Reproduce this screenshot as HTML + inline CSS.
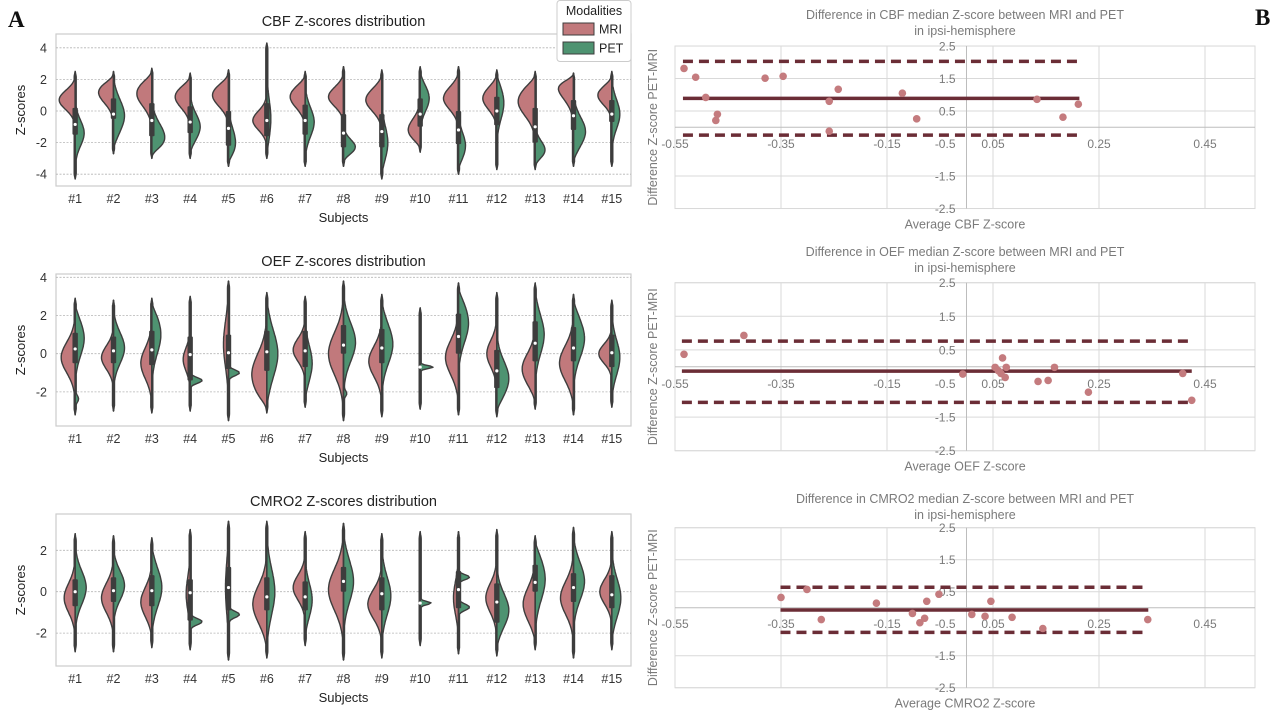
<!DOCTYPE html>
<html><head><meta charset="utf-8"><style>
html,body{margin:0;padding:0;background:#fff;width:1280px;height:720px;overflow:hidden}
svg{display:block;font-family:"Liberation Sans",sans-serif}
</style></head><body>
<svg id="fig" width="1280" height="720" viewBox="0 0 1280 720">
<text x="8" y="27" font-family="Liberation Serif,serif" font-weight="bold" font-size="23" fill="#111">A</text>
<text x="1255" y="25" font-family="Liberation Serif,serif" font-weight="bold" font-size="23" fill="#111">B</text>
</svg>
<script>
// ---------- Violin data (A panels) ----------
const subjects = ["#1","#2","#3","#4","#5","#6","#7","#8","#9","#10","#11","#12","#13","#14","#15"];
// each half: [peak, relWidth, sd]
const cbfMri = [[0.7,0.8,0.6],[1.2,0.75,0.7],[1.1,0.75,0.8],[0.9,0.75,0.7],[1.0,0.8,0.7],[-0.6,0.7,0.6],[0.9,0.75,0.7],[0.9,0.75,0.6],[0.7,0.8,0.7],[-1.2,0.6,0.7],[0.8,0.75,0.7],[0.8,0.7,0.7],[0.6,0.85,0.9],[1.7,0.85,0.9],[1.0,0.7,0.6]];
const cbfPet = [[-1.4,0.45,0.8],[-0.3,0.55,1.0],[-1.7,0.65,0.9],[-1.0,0.5,0.8],[-2.0,0.35,0.9],[-0.5,0.2,1.2],[-0.7,0.45,0.9],[-2.3,0.6,0.5],[-2.0,0.3,1.0],[0.8,0.45,0.8],[-2.2,0.35,0.8],[0.5,0.35,1.0],[-2.5,0.5,0.6],[-1.3,0.6,0.9],[-0.2,0.4,0.9]];
const cbfRange = [[-4.3,2.5],[-2.7,2.5],[-3.0,2.7],[-3.0,2.4],[-3.5,2.6],[-3.0,4.3],[-3.5,2.5],[-3.5,2.8],[-4.3,2.6],[-2.6,2.8],[-4.0,2.8],[-3.7,2.6],[-3.7,2.5],[-3.5,2.4],[-3.5,2.5]];
const cbfBox = [[-1.5,-0.85,0.2],[-0.5,-0.2,0.8],[-1.6,-0.6,0.5],[-1.4,-0.7,0.3],[-2.2,-1.1,0.0],[-1.6,-0.6,0.5],[-1.5,-0.6,0.4],[-2.3,-1.4,-0.2],[-2.3,-1.3,-0.2],[-1.0,-0.2,0.8],[-2.1,-1.2,0.0],[-0.9,0.0,0.9],[-2.0,-1.0,0.2],[-1.2,-0.3,0.7],[-0.7,-0.2,0.7]];
const cbfPet2 = [[0,0,1],[0,0,1],[0,0,1],[0,0,1],[0,0,1],[0,0,1],[0,0,1],[0,0,1],[0,0,1],[0,0,1],[0,0,1],[0,0,1],[0,0,1],[0,0,1],[0,0,1]];

const oefMri = [[-0.2,0.7,0.8],[-0.2,0.6,0.6],[-0.5,0.55,0.8],[-0.3,0.35,0.6],[0.5,0.25,1.2],[-1.1,0.75,1.1],[0.2,0.6,0.6],[0.0,0.75,1.1],[-0.4,0.65,0.8],[0,0.02,1],[-0.2,0.65,0.9],[0.0,0.5,0.7],[-0.8,0.65,0.8],[-0.5,0.7,0.9],[0.0,0.65,0.5]];
const oefPet = [[0.8,0.45,0.9],[0.3,0.55,0.8],[1.0,0.45,1.0],[-1.4,0.6,0.15],[-1.0,0.55,0.15],[0.0,0.55,1.2],[-0.5,0.35,0.9],[0.6,0.6,1.0],[0.5,0.55,1.0],[-0.7,0.65,0.08],[1.6,0.5,1.0],[-1.3,0.6,0.9],[1.0,0.45,1.0],[0.8,0.55,1.0],[-0.2,0.4,0.9]];
const oefRange = [[-3.2,2.9],[-3.0,2.8],[-3.1,2.9],[-3.0,3.0],[-3.5,3.8],[-3.1,3.2],[-2.8,3.0],[-3.5,3.8],[-3.3,3.1],[-2.9,2.4],[-3.2,3.7],[-3.3,3.2],[-2.9,3.7],[-3.2,3.1],[-2.8,2.8]];
const oefBox = [[-0.5,0.25,1.1],[-0.5,0.15,0.9],[-0.6,0.2,1.2],[-1.4,-0.05,0.9],[-0.8,0.05,1.0],[-0.9,0.1,1.2],[-0.7,0.15,1.2],[0.0,0.45,1.5],[-0.5,0.3,1.3],[-0.7,-0.7,-0.7],[0.0,0.9,2.1],[-1.8,-0.9,0.2],[-0.4,0.55,1.7],[-0.4,0.3,1.4],[-0.7,0.05,1.0]];
const oefPet2 = [[-2.4,0.2,0.2],[0,0,1],[0,0,1],[0,0,1],[0,0,1],[0,0,1],[0,0,1],[-2.1,0.15,0.15],[0,0,1],[0,0,1],[0,0,1],[0,0,1],[0,0,1],[0,0,1],[0,0,1]];

const cmrMri = [[-0.3,0.55,0.7],[-0.3,0.6,0.7],[-0.5,0.55,0.7],[-0.1,0.2,0.8],[0.2,0.15,1.2],[-0.6,0.7,0.9],[0.2,0.6,0.6],[0.1,0.75,1.0],[-0.6,0.7,0.7],[0,0.02,1],[-0.3,0.25,0.8],[-0.3,0.55,0.7],[-0.6,0.6,0.8],[-0.3,0.65,0.8],[0.0,0.6,0.6]];
const cmrPet = [[0.2,0.55,0.8],[0.3,0.55,0.7],[0.2,0.5,0.9],[-1.45,0.6,0.15],[-1.1,0.55,0.15],[0.0,0.4,1.1],[-0.4,0.35,0.8],[0.5,0.5,1.0],[-0.2,0.45,0.9],[-0.55,0.55,0.08],[-0.75,0.55,0.15],[-0.9,0.6,0.8],[0.6,0.5,1.0],[0.5,0.55,0.9],[-0.3,0.45,0.9]];
const cmrRange = [[-2.9,2.8],[-2.9,2.7],[-2.7,2.6],[-2.8,3.0],[-3.3,3.4],[-3.2,3.4],[-2.6,2.9],[-3.3,3.3],[-3.2,2.8],[-2.6,2.9],[-3.0,2.9],[-3.1,3.0],[-2.8,2.7],[-3.2,3.1],[-2.8,2.9]];
const cmrBox = [[-0.7,0.0,0.6],[-0.5,0.05,0.7],[-0.7,0.05,0.8],[-1.4,-0.05,0.6],[-0.9,0.2,1.2],[-0.9,-0.25,0.7],[-0.9,-0.25,0.5],[0.0,0.5,1.2],[-0.9,-0.1,0.7],[-0.55,-0.55,-0.55],[-0.8,0.1,1.0],[-1.5,-0.5,0.4],[0.0,0.45,1.3],[-0.5,0.2,0.9],[-0.8,-0.15,0.8]];
const cmrPet2 = [[0,0,1],[0,0,1],[0,0,1],[0,0,1],[0,0,1],[0,0,1],[0,0,1],[0,0,1],[0,0,1],[0,0,1],[0.7,0.55,0.12],[0,0,1],[0,0,1],[0,0,1],[0,0,1]];

const cbfTicks = [4,2,0,-2,-4];
const oefTicks = [4,2,0,-2];
const cmrTicks = [2,0,-2];

// ---------- Bland-Altman data (B panels) ----------
const xTickVals = [-0.55,-0.35,-0.15,0.05,0.25,0.45];
const xTickLabels = ["-0.55","-0.35","-0.15","0.05","0.25","0.45"];
const yTickVals = [2.5,1.5,0.5,-0.5,-1.5,-2.5];
const yTickLabels = ["2.5","1.5","0.5","-0.5","-1.5","-2.5"];
const yGridVals = [2.5,1.5,0.5,-1.5,-2.5];

const cbfAvg = [-0.533,-0.511,-0.492,-0.473,-0.470,-0.380,-0.346,-0.259,-0.242,-0.259,-0.121,-0.094,0.133,0.182,0.211];
const cbfDiff = [1.81,1.54,0.92,0.21,0.40,1.51,1.57,0.80,1.17,-0.12,1.05,0.26,0.86,0.31,0.71];
const cbfStats = [0.89,2.03,-0.24]; // mean, upper LoA, lower LoA
const cbfSpan = [-0.535,0.213];

const oefAvg = [-0.533,-0.420,-0.007,0.054,0.068,0.065,0.060,0.075,0.073,0.135,0.154,0.166,0.230,0.408,0.425];
const oefDiff = [0.37,0.93,-0.22,-0.02,0.26,-0.20,-0.12,-0.02,-0.32,-0.44,-0.41,-0.02,-0.76,-0.20,-1.00];
const oefStats = [-0.13,0.76,-1.06];
const oefSpan = [-0.537,0.425];

const cmrAvg = [-0.350,-0.301,-0.274,-0.170,-0.102,-0.088,-0.079,-0.075,-0.052,0.010,0.035,0.046,0.086,0.144,0.342];
const cmrDiff = [0.32,0.57,-0.37,0.14,-0.18,-0.47,-0.33,0.20,0.42,-0.21,-0.27,0.20,-0.30,-0.65,-0.37];
const cmrStats = [-0.07,0.64,-0.77];
const cmrSpan = [-0.351,0.343];

const NS = "http://www.w3.org/2000/svg";
const fig = document.getElementById("fig");
function mk(tag, attrs, parent){
  const e = document.createElementNS(NS, tag);
  for (const k in attrs) e.setAttribute(k, attrs[k]);
  (parent||fig).appendChild(e);
  return e;
}
function txt(x,y,s,size,fill,anchor,parent,extra){
  const t = mk("text", Object.assign({x:x,y:y,"font-size":size,fill:fill,"text-anchor":anchor||"middle"}, extra||{}), parent);
  t.textContent = s;
  return t;
}

const MRI_C = "#c1797c", PET_C = "#4e9371", EDGE = "#3d3d3d";

function violinPanel(cfg){
  const g = mk("g",{});
  
  
  const X0 = 56, X1 = 631, top = cfg.top, bot = cfg.bot;
  const step = (X1-X0)/subjects.length;
  const xc = i => X0 + step*(i+0.5);
  const ys = v => cfg.y0 - v*cfg.k;
  const HW = 20;
  const fr = mk("rect",{x:X0,y:top,width:X1-X0,height:bot-top,fill:"#fff",stroke:"#cccccc","stroke-width":1.2},g);
  
  
  cfg.ticks.forEach(v=>{
    const gl = mk("line",{x1:X0,x2:X1,y1:ys(v),y2:ys(v),stroke:"#b5b5b5","stroke-width":0.8,"stroke-dasharray":"2,1.5"},g);
    
    
    const tl = txt(X0-9, ys(v)+4.5, String(v), 12.5, "#333", "end", g);
    
    
  });
  const tt = txt((X0+X1)/2, cfg.titleY, cfg.title, 14.5, "#222", "middle", g);
  
  
  const yl = txt(0,0,"Z-scores",13,"#222","middle",g,{transform:`translate(25,${(top+bot)/2}) rotate(-90)`});
  
  
  const xl = txt((X0+X1)/2, bot+36, "Subjects", 13, "#222", "middle", g);
  
  

  subjects.forEach((s,i)=>{
    const cx = xc(i);
    const [lo,hi] = cfg.range[i];
    function halfPath(p, p2, dir){
      const pts=[];
      const n=80;
      for(let j=0;j<=n;j++){
        const v = lo + (hi-lo)*j/n;
        let w = p[1]*Math.exp(-0.5*Math.pow((v-p[0])/p[2],2));
        if (p2) w += p2[1]*Math.exp(-0.5*Math.pow((v-p2[0])/p2[2],2));
        const edge = Math.min(v-lo, hi-v);
        const taper = 1 - Math.exp(-Math.pow(edge/0.6,2));
        w = w*taper;
        w = Math.max(w, 0.05*Math.min(1, edge/0.3));
        pts.push([cx + dir*w*HW, ys(v)]);
      }
      let d = `M${cx},${ys(lo)} `;
      pts.forEach(q=>{ d += `L${q[0].toFixed(1)},${q[1].toFixed(1)} `; });
      d += `L${cx},${ys(hi)} Z`;
      return d;
    }
    const m = mk("path",{d:halfPath(cfg.mri[i],null,-1),fill:MRI_C,stroke:EDGE,"stroke-width":1.4,"stroke-linejoin":"round"},g);
    
    
    const p = mk("path",{d:halfPath(cfg.pet[i],cfg.pet2[i],1),fill:PET_C,stroke:EDGE,"stroke-width":1.4,"stroke-linejoin":"round"},g);
    
    
    const wl = mk("line",{x1:cx,x2:cx,y1:ys(lo),y2:ys(hi),stroke:EDGE,"stroke-width":1.5},g);
    
    
    const b = cfg.box[i];
    if (b[2]-b[0] > 0.01){
      const bx = mk("rect",{x:cx-2.7,y:ys(b[2]),width:5.4,height:ys(b[0])-ys(b[2]),fill:EDGE,rx:1},g);
      
      
    }
    const md = mk("circle",{cx:cx,cy:ys(b[1]),r:1.6,fill:"#fff"},g);
    
    
    const tl = txt(cx, bot+17, s, 12.5, "#333", "middle", g);
    
    
  });
}

violinPanel({name:"cbf-violin-chart",title:"CBF Z-scores distribution",titleY:26,top:34,bot:186,y0:111,k:15.8,ticks:cbfTicks,mri:cbfMri,pet:cbfPet,pet2:cbfPet2,range:cbfRange,box:cbfBox});
violinPanel({name:"oef-violin-chart",title:"OEF Z-scores distribution",titleY:266,top:274,bot:426,y0:353.7,k:19.1,ticks:oefTicks,mri:oefMri,pet:oefPet,pet2:oefPet2,range:oefRange,box:oefBox});
violinPanel({name:"cmro2-violin-chart",title:"CMRO2 Z-scores distribution",titleY:506,top:514,bot:666,y0:591.7,k:20.7,ticks:cmrTicks,mri:cmrMri,pet:cmrPet,pet2:cmrPet2,range:cmrRange,box:cmrBox});

// legend
(function(){
  const g = mk("g",{});
  
  
  const r = mk("rect",{x:557,y:0.5,width:74,height:61,rx:3,fill:"#fff",stroke:"#cccccc","stroke-width":1},g);
  
  
  const t = txt(594,15,"Modalities",12.5,"#222","middle",g);
  
  
  const a = mk("rect",{x:563,y:23,width:31,height:12,fill:MRI_C,stroke:EDGE,"stroke-width":1},g);
  
  
  const at = txt(599,33.5,"MRI",12.5,"#222","start",g);
  
  
  const b = mk("rect",{x:563,y:42,width:31,height:12,fill:PET_C,stroke:EDGE,"stroke-width":1},g);
  
  
  const bt = txt(599,52.5,"PET",12.5,"#222","start",g);
  
  
})();

// ---------- Bland-Altman panels ----------
function baPanel(cfg){
  const g = mk("g",{});
  
  
  const xs = v => 675 + (v+0.55)*530;
  const ys = v => cfg.y0 - v*cfg.k;
  const L = 675, R = 1255, T = ys(2.5), B = ys(-2.5);
  const GC = "#d9d9d9", TC = "#7a7a7a";
  const fr = mk("rect",{x:L,y:T,width:R-L,height:B-T,fill:"#fff",stroke:GC,"stroke-width":1},g);
  
  
  yGridVals.forEach(v=>{
    const l = mk("line",{x1:L,x2:R,y1:ys(v),y2:ys(v),stroke:GC,"stroke-width":1},g);
    
    
  });
  xTickVals.forEach(v=>{
    const l = mk("line",{x1:xs(v),x2:xs(v),y1:T,y2:B,stroke:GC,"stroke-width":1},g);
    
    
  });
  const ax = mk("line",{x1:L,x2:R,y1:ys(0),y2:ys(0),stroke:"#bdbdbd","stroke-width":1},g);
  
  
  const ay = mk("line",{x1:xs(0),x2:xs(0),y1:T,y2:B,stroke:"#bdbdbd","stroke-width":1},g);
  
  
  yTickVals.forEach((v,i)=>{
    const t = txt(xs(0)-11, ys(v)+4.5, yTickLabels[i], 12, TC, "end", g);
    
    
  });
  xTickVals.forEach((v,i)=>{
    const t = txt(xs(v), ys(-0.5)+4.5, xTickLabels[i], 12, TC, "middle", g);
    
    
  });
  const LC = "#6b2d36";
  const [x0,x1] = cfg.span;
  const ml = mk("line",{x1:xs(x0),x2:xs(x1),y1:ys(cfg.stats[0]),y2:ys(cfg.stats[0]),stroke:LC,"stroke-width":3.5},g);
  
  
  const ul = mk("line",{x1:xs(x0),x2:xs(x1),y1:ys(cfg.stats[1]),y2:ys(cfg.stats[1]),stroke:LC,"stroke-width":3.5,"stroke-dasharray":"10,6"},g);
  
  
  const ll = mk("line",{x1:xs(x0),x2:xs(x1),y1:ys(cfg.stats[2]),y2:ys(cfg.stats[2]),stroke:LC,"stroke-width":3.5,"stroke-dasharray":"10,6"},g);
  
  
  cfg.avg.forEach((a,i)=>{
    const c = mk("circle",{cx:xs(a),cy:ys(cfg.diff[i]),r:3.8,fill:"#c47b7e"},g);
    
    
  });
  const t1 = txt(965, cfg.titleY, cfg.title, 12.5, TC, "middle", g);
  
  
  const t2 = txt(965, cfg.titleY+16, "in ipsi-hemisphere", 12.5, TC, "middle", g);
  
  
  const xl = txt(965, B+20, cfg.xlabel, 12.5, TC, "middle", g);
  
  
  const yl = txt(0,0,"Difference  Z-score  PET-MRI",12.5,TC,"middle",g,{transform:`translate(657,${(T+B)/2}) rotate(-90)`});
  
  
}
baPanel({name:"cbf-bland-altman",title:"Difference in CBF median Z-score between MRI and PET",titleY:19,y0:127.3,k:32.5,avg:cbfAvg,diff:cbfDiff,stats:cbfStats,span:cbfSpan,xlabel:"Average  CBF Z-score"});
baPanel({name:"oef-bland-altman",title:"Difference in OEF median  Z-score between  MRI and PET",titleY:256,y0:366.7,k:33.6,avg:oefAvg,diff:oefDiff,stats:oefStats,span:oefSpan,xlabel:"Average  OEF Z-score"});
baPanel({name:"cmro2-bland-altman",title:"Difference in CMRO2 median Z-score between MRI and PET",titleY:503,y0:607.7,k:32,avg:cmrAvg,diff:cmrDiff,stats:cmrStats,span:cmrSpan,xlabel:"Average  CMRO2 Z-score"});
</script>
</body></html>
